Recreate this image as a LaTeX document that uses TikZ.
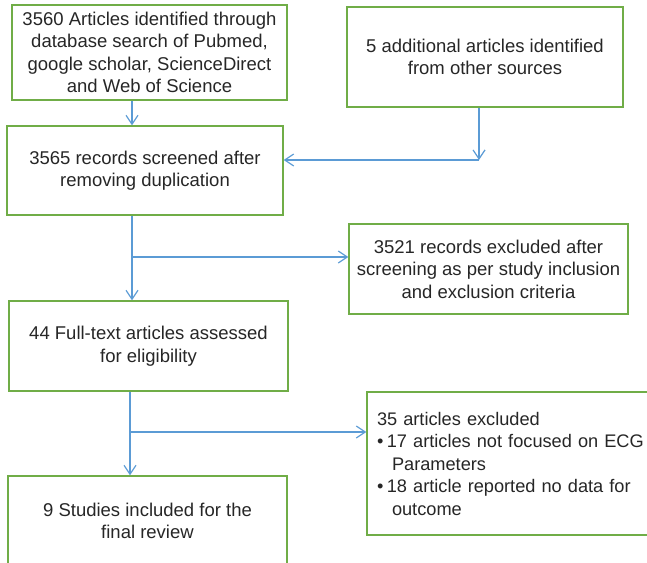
\documentclass[tikz,border=0pt]{standalone}
\usepackage{fontspec}
\setmainfont{Liberation Sans}
\usetikzlibrary{arrows.meta}
\usetikzlibrary{calc}
\definecolor{boxgreen}{RGB}{112,173,71}
\definecolor{linkblue}{RGB}{91,155,213}
\definecolor{inkgray}{RGB}{38,38,38}
\tikzset{
  flowbox/.style={draw=boxgreen,line width=1.3pt,align=center,text=inkgray,
    font=\fontsize{18.5}{22.5}\selectfont,inner sep=0pt},
  flowlink/.style={draw=linkblue,line width=1.2pt,-{Straight Barb[length=9pt,width=12pt]}}
}

\begin{document}
\begin{tikzpicture}[x=1pt,y=-1pt]
\useasboundingbox (0,0) rectangle (647,562);
\clip (0,0) rectangle (647,562);

% boxes
\node[flowbox,minimum width=275pt,minimum height=95pt] (ident) at (149.5,52.5)
  {3560 Articles identified through\\database search of Pubmed,\\google scholar, ScienceDirect\\and Web of Science};
\node[flowbox,minimum width=276pt,minimum height=100pt] (other) at (485,57)
  {5 additional articles identified\\from other sources};
\node[flowbox,minimum width=276pt,minimum height=89pt] (screen) at (145,170.5)
  {3565 records screened after\\removing duplication};
\node[flowbox,minimum width=279pt,minimum height=90pt] (exclA) at (488.5,269)
  {3521 records excluded after\\screening as per study inclusion\\and exclusion criteria};
\node[flowbox,minimum width=279pt,minimum height=90pt] (full) at (148.5,346)
  {44 Full-text articles assessed\\for eligibility};
\node[flowbox,minimum width=300pt,minimum height=143pt,text width=280pt,
  align=left,font=\fontsize{18.2}{22.5}\selectfont] (exclB) at (517,463.5)
  {35 articles excluded\\
   \textbullet\hspace{3.5pt}17 articles not focused on ECG\\
   \hspace*{15pt}Parameters\\
   \textbullet\hspace{3.5pt}18 article reported no data for\\
   \hspace*{15pt}outcome};
\node[flowbox,minimum width=279pt,minimum height=90pt] (final) at (147.5,521)
  {9 Studies included for the\\final review};

% junctions
\coordinate (spine) at (132,0);
\coordinate (join) at (479,160);
\coordinate (forkA) at (132,257);
\coordinate (forkB) at (130,432);

% links
\draw[flowlink] (ident.south -| spine) -- (screen.north -| spine);
\draw[flowlink] (other.south -| join) -- (join);
\draw[flowlink] (join) -- (screen.east |- join);
\draw[flowlink] (screen.south -| spine) -- (full.north -| spine);
\draw[flowlink] (forkA) -- (exclA.west |- forkA);
\draw[flowlink] (full.south -| forkB) -- (final.north -| forkB);
\draw[flowlink] (forkB) -- (exclB.west |- forkB);
\end{tikzpicture}
\end{document}
